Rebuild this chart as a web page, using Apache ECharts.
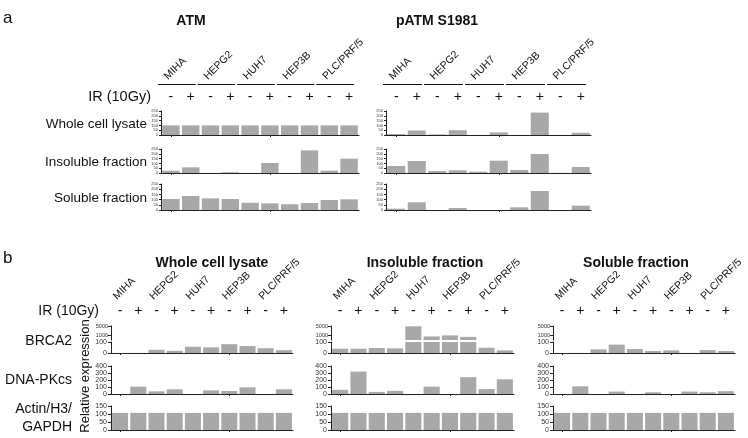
<!DOCTYPE html>
<html>
<head>
<meta charset="utf-8">
<script src="https://cdn.jsdelivr.net/npm/echarts@6/dist/echarts.min.js"></script>
<style>
html,body{margin:0;padding:0;background:#fff;}
#c{width:748px;height:438px;}
</style>
</head>
<body>
<div id="c"></div>
<script>
// ---------- data ----------
const cellLines = ['MIHA', 'HEPG2', 'HUH7', 'HEP3B', 'PLC/PRF/5'];
const irLabels = ['-', '+'];

// panel a (relative expression, %)
const atmWhole     = [100, 100, 100, 100, 100, 100, 100, 100, 100, 100];
const atmInsoluble = [24, 59, 0, 8, 0, 104, 0, 236, 24, 149];
const atmSoluble   = [106, 135, 112, 106, 70, 64, 55, 67, 96, 103];
const patmWhole     = [10, 47, 6, 50, 0, 27, 0, 233, 0, 23];
const patmInsoluble = [73, 125, 21, 28, 14, 128, 31, 198, 2, 62];
const patmSoluble   = [13, 74, 0, 19, 0, 0, 26, 183, 0, 42];

// panel b
const brca2Whole     = [0, 0, 29, 20, 57, 51, 80, 63, 43, 26];
const brca2Insoluble = [39, 39, 45, 42, 4800, 650, 900, 550, 48, 24];
const brca2Soluble   = [0, 0, 33, 76, 36, 18, 24, 0, 27, 18];
const dnapkWhole     = [0, 105, 38, 67, 0, 52, 43, 95, 0, 67];
const dnapkInsoluble = [60, 320, 30, 45, 0, 105, 0, 240, 70, 210];
const dnapkSoluble   = [0, 110, 0, 35, 0, 25, 0, 35, 25, 40];
const ctrlWhole      = [107, 107, 107, 107, 107, 107, 107, 107, 107, 107];
const ctrlInsoluble  = [107, 107, 107, 107, 107, 107, 107, 107, 107, 107];
const ctrlSoluble    = [107, 107, 107, 107, 107, 107, 107, 107, 107, 107];

const brcaUpperTicks = [1000, 3000, 5000];
const brcaBreak = 100;
const brcaMax = 5000;

// ---------- build ----------
const FONT = '"Liberation Sans", Arial, sans-serif';
const BAR = '#a8a8a8';
const AX = '#222';
const barCats = cellLines.flatMap(c => irLabels.map(s => c + ' ' + s));

const grids = [], xAxes = [], yAxes = [], series = [];

function addGrid(pos, yCfg, data, showX) {
  const i = grids.length;
  grids.push({left: pos.left, top: pos.top, width: pos.width, height: pos.height});
  xAxes.push({
    gridIndex: i, type: 'category', data: barCats, show: showX !== false,
    axisLabel: {show: false},
    axisTick: {show: true, alignWithLabel: true, length: 2, lineStyle: {color: AX}},
    axisLine: {lineStyle: {color: AX, width: 1}}
  });
  yAxes.push(Object.assign({gridIndex: i, type: 'value', splitLine: {show: false}}, yCfg));
  series.push({
    type: 'bar', xAxisIndex: i, yAxisIndex: i, data: data,
    barCategoryGap: '12%', itemStyle: {color: BAR}, silent: true, animation: false
  });
  return i;
}

function yCfg(max, interval, fs, tick) {
  return {
    min: 0, max: max, interval: interval,
    axisLine: {show: true, lineStyle: {color: AX, width: 1}},
    axisTick: {show: true, length: tick, lineStyle: {color: AX}},
    axisLabel: {fontSize: fs, margin: tick + 1, color: '#333', fontFamily: FONT, hideOverlap: false}
  };
}

function addHeader(gi, o) {
  series.push({
    type: 'custom', xAxisIndex: gi, yAxisIndex: gi, silent: true, animation: false, z: 10,
    data: cellLines.map((c, g) => [2 * g, 0]),
    renderItem: function (params, api) {
      const g = params.dataIndex;
      const xa = api.coord([2 * g, 0])[0];
      const xb = api.coord([2 * g + 1, 0])[0];
      const bw = api.size([1, 0])[0];
      const ch = [];
      ch.push({type: 'text', x: xa - bw / 2 + o.labelDx, y: o.labelY, rotation: Math.PI / 4,
        style: {text: cellLines[g], fontSize: o.labelFs, fontFamily: FONT, fill: '#111', align: 'left', verticalAlign: 'middle'}});
      if (o.lineY) {
        ch.push({type: 'line', shape: {x1: xa - bw / 2 - 3, y1: o.lineY, x2: xb + bw / 2 - 5, y2: o.lineY},
          style: {stroke: '#111', lineWidth: 1}});
      }
      ch.push({type: 'text', x: xa, y: o.pmY, style: {text: irLabels[0], fontSize: o.pmFs, fontFamily: FONT, fill: '#111', align: 'center', verticalAlign: 'middle'}});
      ch.push({type: 'text', x: xb, y: o.pmY, style: {text: irLabels[1], fontSize: o.pmFs, fontFamily: FONT, fill: '#111', align: 'center', verticalAlign: 'middle'}});
      return {type: 'group', children: ch};
    }
  });
}

// panel a
const colsA = [
  {left: 161, width: 198, rows: [atmWhole, atmInsoluble, atmSoluble]},
  {left: 386, width: 205, rows: [patmWhole, patmInsoluble, patmSoluble]}
];
const rowsA = [{top: 111, height: 24}, {top: 149, height: 24}, {top: 184, height: 26}];
colsA.forEach(col => {
  let first = -1;
  rowsA.forEach((r, ri) => {
    const gi = addGrid({left: col.left, width: col.width, top: r.top, height: r.height},
      yCfg(250, 50, 4, 2), col.rows[ri]);
    if (ri === 0) first = gi;
  });
  addHeader(first, {labelDx: 5, labelY: 78, labelFs: 10.5, lineY: 84.5, pmY: 97, pmFs: 14});
});

// panel b
const sq = v => Math.sqrt(v) - Math.sqrt(brcaBreak);
const colsB = [
  {left: 111, width: 182, brca: brca2Whole, dna: dnapkWhole, ctrl: ctrlWhole},
  {left: 331, width: 183, brca: brca2Insoluble, dna: dnapkInsoluble, ctrl: ctrlInsoluble},
  {left: 553, width: 182, brca: brca2Soluble, dna: dnapkSoluble, ctrl: ctrlSoluble}
];
colsB.forEach(col => {
  // upper (broken) segment of BRCA2
  const up = addGrid({left: col.left, width: col.width, top: 326, height: 14}, {
    min: 0, max: sq(brcaMax),
    axisLine: {show: true, lineStyle: {color: AX, width: 1}},
    axisTick: {show: true, length: 3, customValues: brcaUpperTicks.map(sq), lineStyle: {color: AX}},
    axisLabel: {fontSize: 5.5, margin: 3, color: '#333', fontFamily: FONT,
      customValues: brcaUpperTicks.map(sq), hideOverlap: false,
      showMinLabel: true, showMaxLabel: true,
      formatter: v => String(Math.round(Math.pow(v + Math.sqrt(brcaBreak), 2) / 100) * 100)}
  }, col.brca.map(v => v > brcaBreak ? sq(v) : null), false);
  addHeader(up, {labelDx: 4, labelY: 298, labelFs: 10.5, lineY: 0, pmY: 311, pmFs: 14});
  addGrid({left: col.left, width: col.width, top: 342, height: 11}, yCfg(100, 100, 7, 3),
    col.brca.map(v => Math.min(v, brcaBreak)));
  addGrid({left: col.left, width: col.width, top: 366, height: 28}, yCfg(400, 100, 7, 3), col.dna);
  addGrid({left: col.left, width: col.width, top: 406, height: 24}, yCfg(150, 50, 7, 3), col.ctrl);
});

// static text
function txt(text, x, y, fs, align, extra) {
  return {type: 'text', x: x, y: y, silent: true,
    style: Object.assign({text: text, fontSize: fs, fontFamily: FONT, fill: '#111', align: align || 'left', verticalAlign: 'middle'}, extra || {})};
}
const graphic = [
  txt('a', 3, 18, 17, 'left'),
  txt('ATM', 191, 21, 14, 'center', {fontWeight: 'bold'}),
  txt('pATM S1981', 437, 21, 14, 'center', {fontWeight: 'bold'}),
  txt('IR (10Gy)', 151, 97, 14.5, 'right'),
  txt('Whole cell lysate', 147, 124, 13.5, 'right'),
  txt('Insoluble fraction', 147, 162, 13.5, 'right'),
  txt('Soluble fraction', 147, 198, 13.5, 'right'),
  txt('b', 3, 258, 17, 'left'),
  txt('Whole cell lysate', 212, 263, 14, 'center', {fontWeight: 'bold'}),
  txt('Insoluble fraction', 425, 263, 14, 'center', {fontWeight: 'bold'}),
  txt('Soluble fraction', 636, 263, 14, 'center', {fontWeight: 'bold'}),
  txt('IR (10Gy)', 99, 311, 14, 'right'),
  txt('BRCA2', 72, 341, 14, 'right'),
  txt('DNA-PKcs', 72, 380, 14, 'right'),
  txt('Actin/H3/', 72, 409, 14, 'right'),
  txt('GAPDH', 72, 427, 14, 'right'),
  Object.assign(txt('Relative expression', 85, 376, 13, 'center'), {rotation: Math.PI / 2})
];

const chart = echarts.init(document.getElementById('c'), null, {renderer: 'canvas'});
chart.setOption({
  animation: false,
  backgroundColor: '#fff',
  grid: grids, xAxis: xAxes, yAxis: yAxes, series: series, graphic: graphic
});
</script>
</body>
</html>
